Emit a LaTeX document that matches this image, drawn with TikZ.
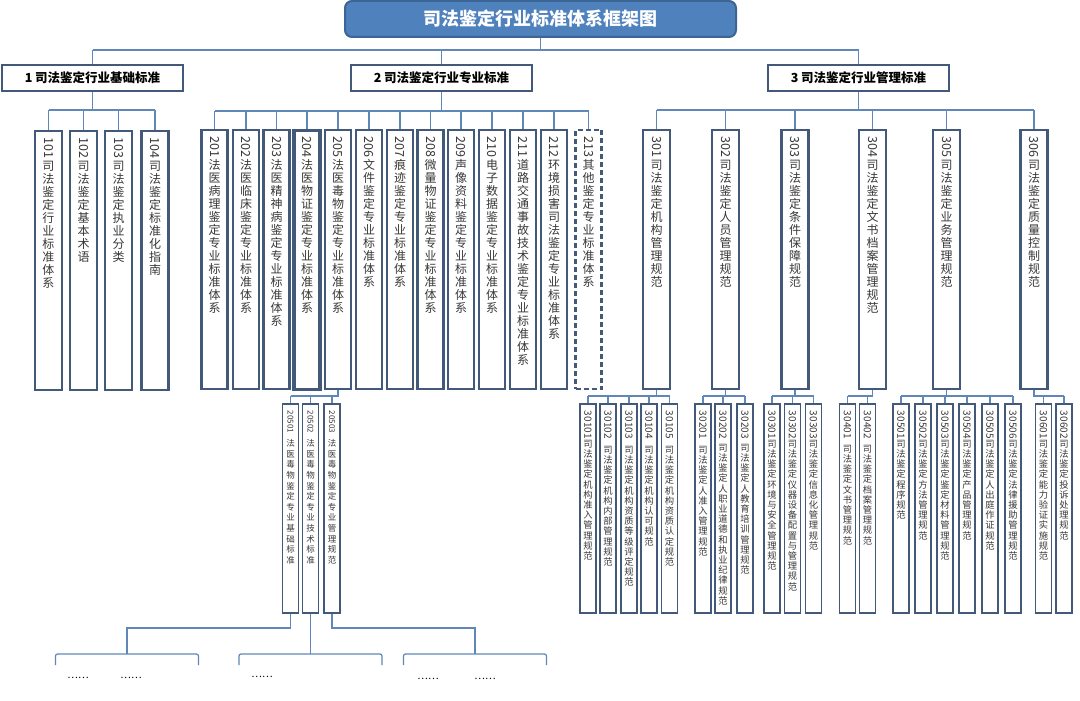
\documentclass[tikz,border=0pt]{standalone}
\usepackage{fontspec}
\usepackage{graphicx}
\setmainfont{Noto Sans CJK SC}
\definecolor{linec}{HTML}{5F88B8}
\definecolor{boxc}{HTML}{43597A}
\definecolor{titlefill}{HTML}{4F81BD}
\definecolor{titledraw}{HTML}{3A6595}
\definecolor{txt}{HTML}{383838}
% vertical column setup: box height, digit size, cjk size, pitch, top kern
\newcommand\vtsetup[5]{%
  \def\vtboxh{#1}\def\vtds{#2}\def\vtcs{#3}\def\vttop{#5}%
  \pgfmathsetlengthmacro\vtht{0.88*#3+(#4-#3)/2}%
  \pgfmathsetlengthmacro\vtdp{#4-\vtht}}
\ExplSyntaxOn
\NewDocumentCommand\vcol{ O{1pt} m m }{
  \vbox to \vtboxh {
    \offinterlineskip
    \kern\vttop
    \hbox to 0pt{\hss\rotatebox{-90}{\fontsize{\vtds}{\vtds}\selectfont #2}\hss}
    \kern #1
    \fontsize{\vtcs}{\vtcs}\selectfont
    \tl_map_inline:nn {#3} { \hbox to 0pt{\hss\vrule height \vtht depth \vtdp width 0pt ##1\hss} }
    \vss
  }
}
\ExplSyntaxOff
\tikzset{
  conn/.style={draw=linec, line width=1.2pt},
  titlebox/.style={draw=titledraw, line width=2pt, fill=titlefill, rounded corners=7pt,
    minimum width=391pt, minimum height=36pt, inner sep=0pt, text=white,
    font=\fontsize{18pt}{18pt}\selectfont\bfseries},
  lonebox/.style={draw=boxc, line width=2.8pt, fill=white, minimum width=181pt,
    minimum height=26pt, inner sep=0pt, text=black,
    font=\fontsize{12.5pt}{12.5pt}\selectfont\bfseries},
  colbig/.style={draw=boxc, line width=2.4pt, fill=white, inner sep=0pt, anchor=north,
    minimum width=26pt, minimum height=259pt, text=txt,
    font=\vtsetup{259pt}{12.5pt}{12pt}{13pt}{6pt}},
  colsmall/.style={draw=boxc, line width=1.8pt, fill=white, inner sep=0pt, anchor=north,
    minimum width=16pt, minimum height=209pt, text=txt,
    font=\vtsetup{209pt}{10pt}{9.3pt}{10.2pt}{7pt}},
  colsub/.style={draw=boxc, line width=1.8pt, fill=white, inner sep=0pt, anchor=north,
    minimum width=16pt, minimum height=209pt, text=txt,
    font=\vtsetup{209pt}{8pt}{8.5pt}{10.6pt}{7pt}},
  dotstxt/.style={inner sep=0pt, text=black, font=\fontsize{10pt}{10pt}\selectfont},
}
\begin{document}
\begin{tikzpicture}[x=1pt,y=-1pt]
\useasboundingbox (0,0) rectangle (1080,701);
% title and level 1
\node[titlebox] (title) at (540.5,19) {司法鉴定行业标准体系框架图};
\node[lonebox] (A) at (92.5,78) {1 司法鉴定行业基础标准};
\node[lonebox] (B) at (441.5,78) {2 司法鉴定行业专业标准};
\node[lonebox] (C) at (858.5,78) {3 司法鉴定行业管理标准};
\coordinate (top) at (540.5,50);
\draw[conn] (title.south) -- (top);
\draw[conn] (A.north |- top) -- (C.north |- top);
\foreach \n in {A,B,C} \draw[conn] (\n.north |- top) -- (\n.north);
% group 1
\node[colbig, minimum width=27pt] (n101) at (48.5,130) {\vcol{101}{司法鉴定行业标准体系}};
\node[colbig, minimum width=27pt] (n102) at (83.5,130) {\vcol{102}{司法鉴定基本术语}};
\node[colbig, minimum width=27pt] (n103) at (118.5,130) {\vcol{103}{司法鉴定执业分类}};
\node[colbig, minimum width=27pt] (n104) at (155,130) {\vcol{104}{司法鉴定标准化指南}};
\coordinate (bA) at (92.5,110);
\draw[conn] (A.south) -- (bA);
\draw[conn] (n101.north |- bA) -- (n104.north |- bA);
\foreach \n in {101,102,103,104} \draw[conn] (n\n.north |- bA) -- (n\n.north);
% group 2
\node[colbig] (n201) at (214.5,129) {\vcol{201}{法医病理鉴定专业标准体系}};
\node[colbig] (n202) at (246,129) {\vcol{202}{法医临床鉴定专业标准体系}};
\node[colbig] (n203) at (276.5,129) {\vcol{203}{法医精神病鉴定专业标准体系}};
\node[colbig, line width=3.2pt] (n204) at (307,129) {\vcol{204}{法医物证鉴定专业标准体系}};
\node[colbig] (n205) at (338,129) {\vcol{205}{法医毒物鉴定专业标准体系}};
\node[colbig] (n206) at (369,129) {\vcol{206}{文件鉴定专业标准体系}};
\node[colbig] (n207) at (400,129) {\vcol{207}{痕迹鉴定专业标准体系}};
\node[colbig] (n208) at (430.5,129) {\vcol{208}{微量物证鉴定专业标准体系}};
\node[colbig] (n209) at (461,129) {\vcol{209}{声像资料鉴定专业标准体系}};
\node[colbig] (n210) at (492,129) {\vcol{210}{电子数据鉴定专业标准体系}};
\node[colbig] (n211) at (523,129) {\vcol{211}{道路交通事故技术鉴定专业标准体系}};
\node[colbig] (n212) at (554,129) {\vcol{212}{环境损害司法鉴定专业标准体系}};
\node[colbig, dashed, dash pattern=on 5pt off 3pt] (n213) at (588.5,129) {\vcol{213}{其他鉴定专业标准体系}};
\coordinate (bB) at (441.5,111);
\draw[conn] (B.south) -- (bB);
\draw[conn] (n201.north |- bB) -- (n213.north |- bB);
\foreach \n in {201,202,203,204,205,206,207,208,209,210,211,212,213} \draw[conn] (n\n.north |- bB) -- (n\n.north);
% group 3
\node[colbig, minimum width=27pt] (n301) at (656.5,129) {\vcol{301}{司法鉴定机构管理规范}};
\node[colbig, minimum width=27pt] (n302) at (725.5,129) {\vcol{302}{司法鉴定人员管理规范}};
\node[colbig, minimum width=27pt] (n303) at (795,129) {\vcol{303}{司法鉴定条件保障规范}};
\node[colbig, minimum width=27pt] (n304) at (872.5,129) {\vcol{304}{司法鉴定文书档案管理规范}};
\node[colbig, minimum width=27pt] (n305) at (946.5,129) {\vcol{305}{司法鉴定业务管理规范}};
\node[colbig, minimum width=27pt] (n306) at (1034,129) {\vcol{306}{司法鉴定质量控制规范}};
\coordinate (bC) at (858.5,110);
\draw[conn] (C.south) -- (bC);
\draw[conn] (n301.north |- bC) -- (n306.north |- bC);
\foreach \n in {301,302,303,304,305,306} \draw[conn] (n\n.north |- bC) -- (n\n.north);
% sub level under 205
\node[colsub] (m20501) at (290.5,403) {\vcol[5pt]{20501}{法医毒物鉴定专业基础标准}};
\node[colsub] (m20502) at (310.5,403) {\vcol[5pt]{20502}{法医毒物鉴定专业技术标准}};
\node[colsub] (m20503) at (332,403) {\vcol[5pt]{20503}{法医毒物鉴定专业管理规范}};
\coordinate (s205) at (338,396);
\draw[conn] (n205.south) -- (s205) -- (m20501.north |- s205);
\foreach \n in {20501,20502,20503} \draw[conn] (m\n.north |- s205) -- (m\n.north);
% sub level under 301
\node[colsmall] (m30101) at (588,403) {\vcol[0pt]{30101}{司法鉴定机构准入管理规范}};
\node[colsmall] (m30102) at (608,403) {\vcol[6pt]{30102}{司法鉴定机构内部管理规范}};
\node[colsmall] (m30103) at (629,403) {\vcol[6pt]{30103}{司法鉴定机构资质等级评定规范}};
\node[colsmall] (m30104) at (649,403) {\vcol[6pt]{30104}{司法鉴定机构认可规范}};
\node[colsmall] (m30105) at (669.5,403) {\vcol[6pt]{30105}{司法鉴定机构资质认定规范}};
\coordinate (s301) at (656.5,396);
\draw[conn] (n301.south) -- (s301);
\draw[conn] (m30101.north |- s301) -- (m30105.north |- s301);
\foreach \n in {30101,30102,30103,30104,30105} \draw[conn] (m\n.north |- s301) -- (m\n.north);
% under 302
\node[colsmall] (m30201) at (703,403) {\vcol[6pt]{30201}{司法鉴定人准入管理规范}};
\node[colsmall] (m30202) at (723,403) {\vcol[4pt]{30202}{司法鉴定人职业道德和执业纪律规范}};
\node[colsmall] (m30203) at (745,403) {\vcol[4pt]{30203}{司法鉴定人教育培训管理规范}};
\coordinate (s302) at (725.5,396);
\draw[conn] (n302.south) -- (s302);
\draw[conn] (m30201.north |- s302) -- (m30203.north |- s302);
\foreach \n in {30201,30202,30203} \draw[conn] (m\n.north |- s302) -- (m\n.north);
% under 303
\node[colsmall] (m30301) at (772,403) {\vcol[0pt]{30301}{司法鉴定环境与安全管理规范}};
\node[colsmall] (m30302) at (792.5,403) {\vcol[0pt]{30302}{司法鉴定仪器设备配置与管理规范}};
\node[colsmall] (m30303) at (813.5,403) {\vcol[0pt]{30303}{司法鉴定信息化管理规范}};
\coordinate (s303) at (795,396);
\draw[conn] (n303.south) -- (s303);
\draw[conn] (m30301.north |- s303) -- (m30303.north |- s303);
\foreach \n in {30301,30302,30303} \draw[conn] (m\n.north |- s303) -- (m\n.north);
% under 304
\node[colsmall] (m30401) at (847.5,403) {\vcol[5pt]{30401}{司法鉴定文书管理规范}};
\node[colsmall] (m30402) at (867.5,403) {\vcol[5pt]{30402}{司法鉴定档案管理规范}};
\coordinate (s304) at (872.5,396);
\draw[conn] (n304.south) -- (s304) -- (m30401.north |- s304);
\foreach \n in {30401,30402} \draw[conn] (m\n.north |- s304) -- (m\n.north);
% under 305
\node[colsmall] (m30501) at (901,403) {\vcol[0pt]{30501}{司法鉴定程序规范}};
\node[colsmall] (m30502) at (923,403) {\vcol[0pt]{30502}{司法鉴定方法管理规范}};
\node[colsmall] (m30503) at (945,403) {\vcol[0pt]{30503}{司法鉴定鉴定材料管理规范}};
\node[colsmall] (m30504) at (967,403) {\vcol[0pt]{30504}{司法鉴定产品管理规范}};
\node[colsmall] (m30505) at (990,403) {\vcol[0pt]{30505}{司法鉴定人出庭作证规范}};
\node[colsmall] (m30506) at (1013,403) {\vcol[0pt]{30506}{司法鉴定法律援助管理规范}};
\coordinate (s305) at (946.5,396);
\draw[conn] (n305.south) -- (s305);
\draw[conn] (m30501.north |- s305) -- (m30506.north |- s305);
\foreach \n in {30501,30502,30503,30504,30505,30506} \draw[conn] (m\n.north |- s305) -- (m\n.north);
% under 306
\node[colsmall] (m30601) at (1043.5,403) {\vcol[0pt]{30601}{司法鉴定能力验证实施规范}};
\node[colsmall] (m30602) at (1064,403) {\vcol[0pt]{30602}{司法鉴定投诉处理规范}};
\coordinate (s306) at (1034,396);
\draw[conn] (n306.south) -- (s306) -- (m30602.north |- s306);
\foreach \n in {30601,30602} \draw[conn] (m\n.north |- s306) -- (m\n.north);
% bottom brackets
\coordinate (kL) at (127,628);
\coordinate (bkL) at (127,654);
\coordinate (bkM) at (310.5,654);
\coordinate (kR) at (475,628);
\coordinate (bkR) at (475,654);
\draw[conn] (m20501.south) |- (kL) -- (bkL);
\draw[conn] (m20502.south) -- (bkM);
\draw[conn] (m20503.south) |- (kR) -- (bkR);
\foreach \c in {bkL,bkM,bkR}
  \draw[conn, rounded corners=2pt] (\c) ++(-71.5,11) -- ++(0,-11) -- ++(143,0) -- ++(0,11);
\node[dotstxt] (d1) at (78,678) {……};
\node[dotstxt] (d2) at (131,678) {……};
\node[dotstxt] (d3) at (262,677) {……};
\node[dotstxt] (d4) at (428,679) {……};
\node[dotstxt] (d5) at (485,679) {……};
\end{tikzpicture}
\end{document}
